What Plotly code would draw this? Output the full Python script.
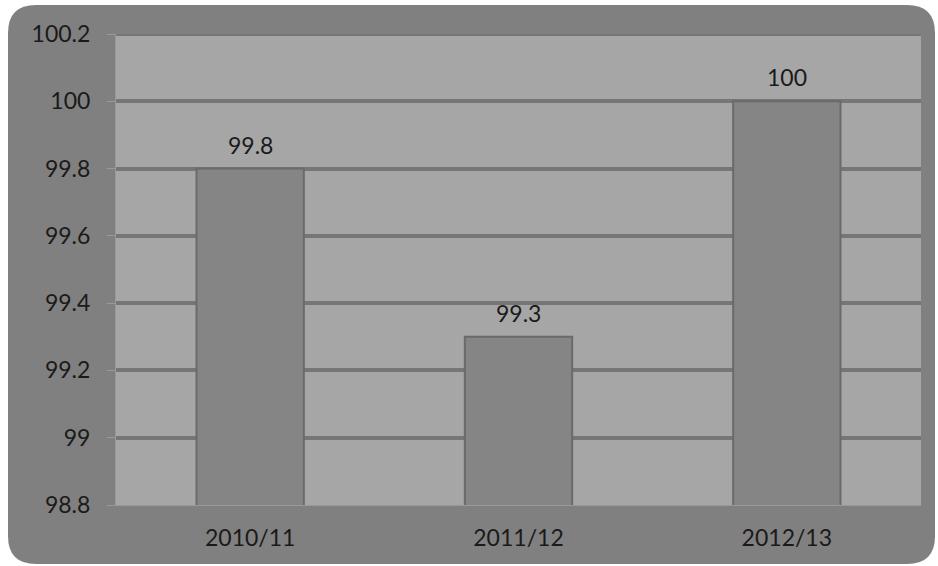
import plotly.graph_objects as go

# Series data
years = ["2010/11", "2011/12", "2012/13"]
values = [99.8, 99.3, 100]
y_ticks = [98.8, 99, 99.2, 99.4, 99.6, 99.8, 100, 100.2]
y_tick_labels = ["98.8", "99", "99.2", "99.4", "99.6", "99.8", "100", "100.2"]

W, H = 938, 566
ML, MR, MT, MB = 116, 17, 34, 61
PW, PH = W - ML - MR, H - MT - MB


def px_to_paper(x, y):
    return (x - ML) / PW, (H - MB - y) / PH


def rounded_rect_path(x0, y0, x1, y1, r):
    pts = [
        ("M", [(x0 + r, y0)]),
        ("L", [(x1 - r, y0)]),
        ("Q", [(x1, y0), (x1, y0 + r)]),
        ("L", [(x1, y1 - r)]),
        ("Q", [(x1, y1), (x1 - r, y1)]),
        ("L", [(x0 + r, y1)]),
        ("Q", [(x0, y1), (x0, y1 - r)]),
        ("L", [(x0, y0 + r)]),
        ("Q", [(x0, y0), (x0 + r, y0)]),
    ]
    out = []
    for cmd, coords in pts:
        s = " ".join("%.5f,%.5f" % px_to_paper(cx, cy) for cx, cy in coords)
        out.append(cmd + " " + s)
    return " ".join(out) + " Z"


font_family = "Lato, 'DejaVu Sans', sans-serif"
text_color = "#1a1a1a"
grid_color = "#767676"

fig = go.Figure()
fig.add_trace(go.Bar(
    x=years,
    y=values,
    base=0,
    marker=dict(color="#858585", line=dict(color="#6a6a6a", width=2)),
    width=0.4,
    hoverinfo="x+y",
))

# Value labels above each bar
annotations = [
    dict(x=c, y=v, xref="x", yref="y", text=f"{v:g}", showarrow=False,
         yanchor="middle", yshift=24,
         font=dict(size=23, color=text_color, family=font_family))
    for c, v in zip(years, values)
]

fig.update_layout(
    width=W,
    height=H,
    margin=dict(l=ML, r=MR, t=MT, b=MB),
    paper_bgcolor="white",
    plot_bgcolor="#a6a6a6",
    showlegend=False,
    font=dict(family=font_family, size=23, color=text_color),
    annotations=annotations,
    shapes=[
        # rounded chart frame
        dict(type="path", xref="paper", yref="paper",
             path=rounded_rect_path(8, 5, 935, 564, 28),
             fillcolor="#808080", line=dict(width=0), layer="below"),
        # plot area fill
        dict(type="rect", xref="paper", yref="paper", x0=0, x1=1, y0=0, y1=1,
             fillcolor="#a6a6a6", line=dict(width=0), layer="below"),
        # gridline at the top of the value range
        dict(type="line", xref="paper", yref="y", x0=0, x1=1,
             y0=y_ticks[-1], y1=y_ticks[-1],
             line=dict(color=grid_color, width=4), layer="below"),
    ],
)

fig.update_yaxes(
    range=[y_ticks[0], y_ticks[-1]],
    tickvals=y_ticks,
    ticktext=y_tick_labels,
    showgrid=True,
    gridcolor=grid_color,
    gridwidth=4,
    zeroline=False,
    showline=True,
    linecolor="#999999",
    linewidth=1,
    ticks="outside",
    ticklen=8,
    tickcolor="#999999",
    ticklabelstandoff=12,
    tickfont=dict(size=23, color=text_color),
)
fig.update_xaxes(
    showgrid=False,
    showline=True,
    linecolor="#999999",
    linewidth=1,
    ticks="",
    tickfont=dict(size=23, color=text_color),
    ticklabelstandoff=12,
)

fig.write_html("out.html")
